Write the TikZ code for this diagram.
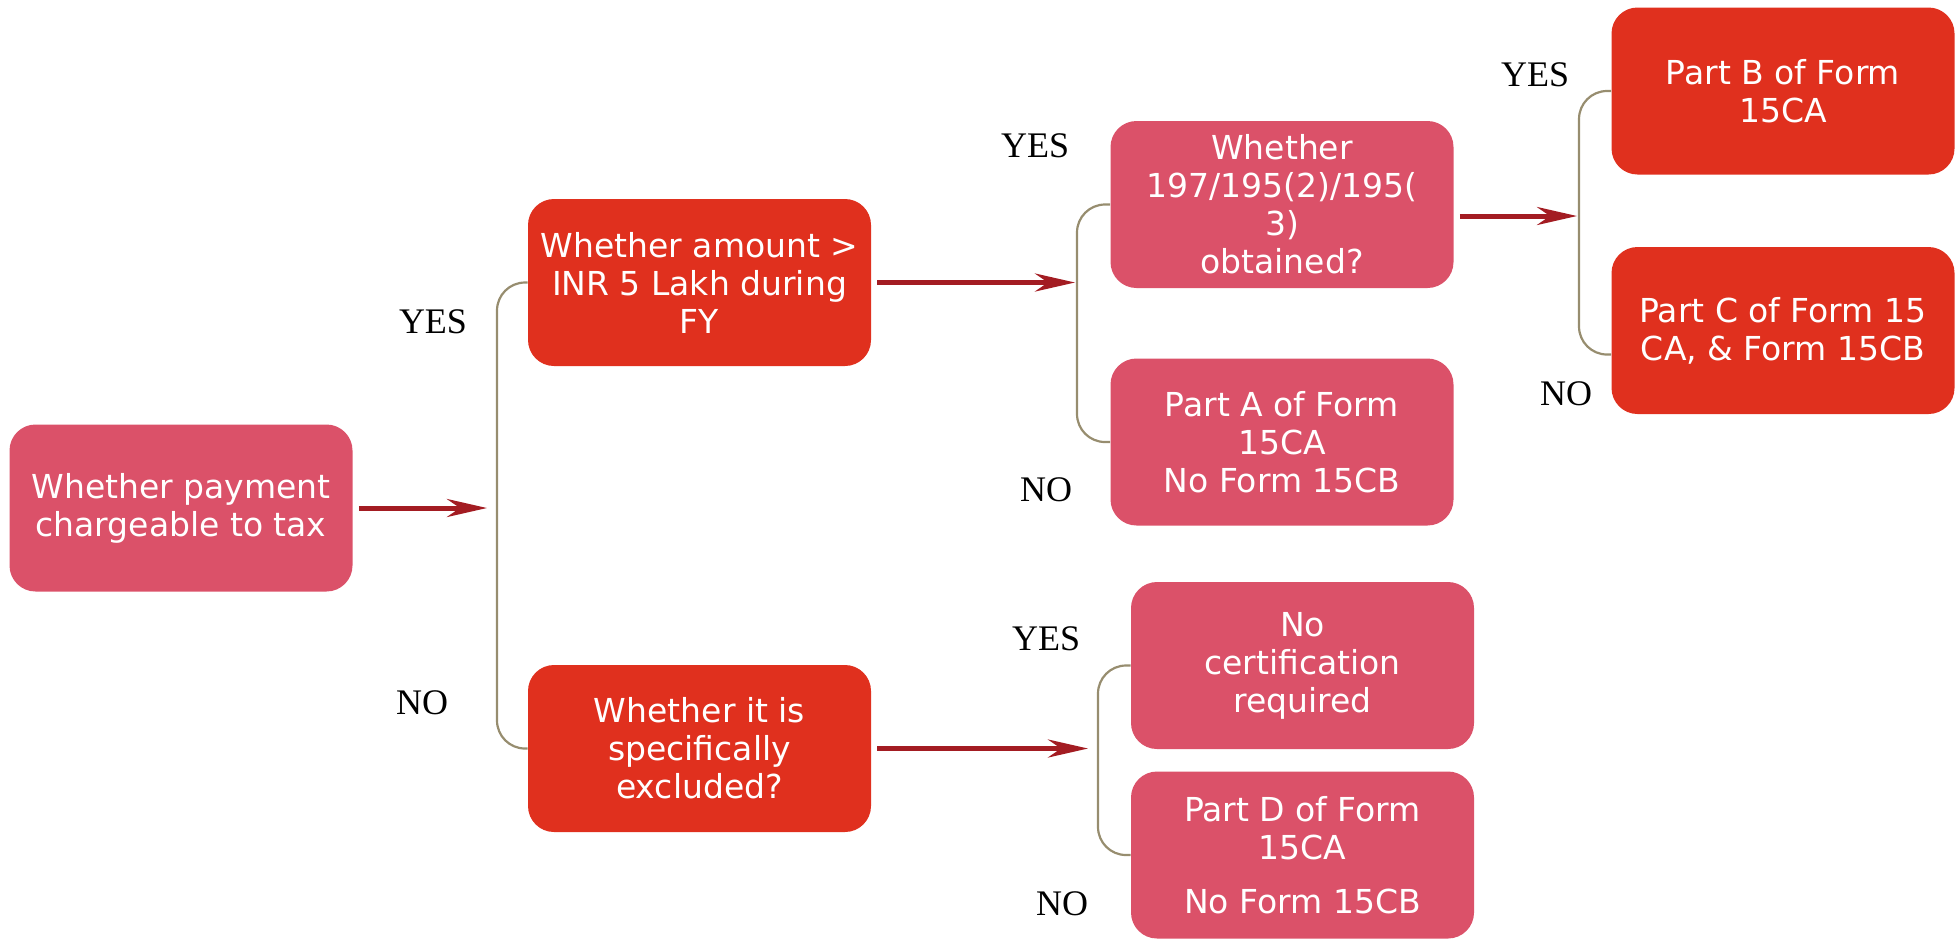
\documentclass[tikz,border=0pt]{standalone}
\usepackage{fontspec}
\setsansfont{DejaVu Sans}
\newfontfamily\ynfont{Liberation Serif}
\usepackage{tikz}
\usetikzlibrary{arrows.meta}
\definecolor{boxpink}{HTML}{DB5169}
\definecolor{boxred}{HTML}{E0301E}
\definecolor{arwred}{HTML}{A31C22}
\definecolor{brkgray}{HTML}{978D6F}
\tikzset{
  flownode/.style = {align=center, inner sep=0pt, text centered, text=white,
    font=\sffamily\fontsize{16.5}{19}\selectfont, rounded corners=13pt,
    minimum width=171.5pt, minimum height=83.5pt},
  box_p/.style = {flownode, fill=boxpink},% pink box
  box_r/.style = {flownode, fill=boxred},% red box
  yn/.style = {font=\ynfont\fontsize{18}{20}\selectfont, inner sep=0pt},% yes / no
  brk/.style = {draw=brkgray, line width=1.1pt, rounded corners=14pt},% bracket
  arw/.style = {draw=arwred, line width=2.5pt, ->, shorten <=3pt}% arrow
}
\begin{document}
\begin{tikzpicture}[x=0.5pt, y=-0.5pt, >={Stealth[length=20pt,width=9pt]}]
\useasboundingbox (0,0) rectangle (1957,939);
\node [box_p] (pay) at (181,508) {Whether payment\\chargeable to tax};
\node [box_r] (amt) at (699.5,282.5) {Whether amount >\\INR 5 Lakh during\\FY};
\node [box_r] (excl) at (699.5,748.5) {Whether it is\\specifically\\excluded?};
\node [box_p] (cert197) at (1282,204.5) {Whether\\197/195(2)/195(\\3)\\obtained?};
\node [box_p] (partA) at (1282,442) {Part A of Form\\15CA\\No Form 15CB};
\node [box_p] (nocert) at (1302.5,665.5) {No\\certification\\required};
\node [box_p] (partD) at (1302.5,855) {Part D of Form\\15CA\\[8pt]No Form 15CB};
\node [box_r] (partB) at (1783,91) {Part B of Form\\15CA};
\node [box_r] (partC) at (1783,330.5) {Part C of Form 15\\CA, \& Form 15CB};
% yes / no
\node [yn] (yes1) at (433,322) {YES};
\node [yn] (no1) at (422,703) {NO};
\node [yn] (yes2) at (1035,146) {YES};
\node [yn] (no2) at (1046,490) {NO};
\node [yn] (yes3) at (1535,75) {YES};
\node [yn] (no3) at (1566,394) {NO};
\node [yn] (yes4) at (1046,639) {YES};
\node [yn] (no4) at (1062,904) {NO};
% brackets
\coordinate (b1) at (497,508);
\coordinate (b2) at (1077,282.5);
\coordinate (b3) at (1579,216);
\coordinate (b4) at (1098,748.5);
\draw [brk] (amt.west) -| (b1) |- (excl.west);
\draw [brk] (cert197.west) -| (b2) |- (partA.west);
\draw [brk] (partB.west) -| (b3) |- ([yshift=-12pt]partC.west);
\draw [brk] (nocert.west) -| (b4) |- (partD.west);
% arrows
\draw [arw] (pay.east) -- ([xshift=-5pt]b1);
\draw [arw] (amt.east) -- ([xshift=-1pt]b2);
\draw [arw] (cert197.east |- b3) -- ([xshift=-1pt]b3);
\draw [arw] (excl.east) -- ([xshift=-5pt]b4);
\end{tikzpicture}
\end{document}
